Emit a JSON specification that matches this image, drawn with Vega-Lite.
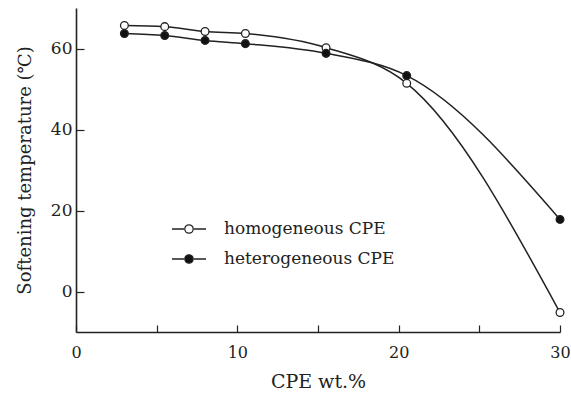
{
  "$schema": "https://vega.github.io/schema/vega-lite/v6.json",
  "width": 484,
  "height": 324,
  "autosize": {"type": "none"},
  "padding": {"left": 76, "top": 8, "right": 11, "bottom": 71},
  "background": "white",
  "config": {
    "view": {"stroke": null},
    "font": "DejaVu Serif",
    "axis": {"grid": false, "domainColor": "#222", "tickColor": "#222", "labelColor": "#222", "titleColor": "#222", "labelFont": "DejaVu Serif", "titleFont": "DejaVu Serif", "titleFontWeight": "normal", "domainWidth": 1.6, "tickWidth": 1.2}
  },
  "data": {
    "values": [
      {"cpe": 3, "temp": 65.7, "series": "homogeneous CPE"},
      {"cpe": 5.5, "temp": 65.4, "series": "homogeneous CPE"},
      {"cpe": 8, "temp": 64.2, "series": "homogeneous CPE"},
      {"cpe": 10.5, "temp": 63.7, "series": "homogeneous CPE"},
      {"cpe": 15.5, "temp": 60.2, "series": "homogeneous CPE"},
      {"cpe": 20.5, "temp": 51.4, "series": "homogeneous CPE"},
      {"cpe": 30, "temp": -5.2, "series": "homogeneous CPE"},
      {"cpe": 3, "temp": 63.7, "series": "heterogeneous CPE"},
      {"cpe": 5.5, "temp": 63.2, "series": "heterogeneous CPE"},
      {"cpe": 8, "temp": 62.0, "series": "heterogeneous CPE"},
      {"cpe": 10.5, "temp": 61.2, "series": "heterogeneous CPE"},
      {"cpe": 15.5, "temp": 58.8, "series": "heterogeneous CPE"},
      {"cpe": 20.5, "temp": 53.3, "series": "heterogeneous CPE"},
      {"cpe": 30, "temp": 17.8, "series": "heterogeneous CPE"}
    ]
  },
  "encoding": {
    "x": {
      "field": "cpe", "type": "quantitative",
      "scale": {"domain": [0, 30], "nice": false, "zero": false},
      "axis": {"title": "CPE wt.%", "values": [0, 5, 10, 15, 20, 25, 30], "labelExpr": "datum.value % 10 === 0 ? datum.label : ''", "tickSize": -7, "labelPadding": 19, "labelFontSize": 16, "titleFontSize": 19, "titlePadding": 12, "labelFlush": false}
    },
    "y": {
      "field": "temp", "type": "quantitative",
      "scale": {"domain": [-10, 70], "nice": false, "zero": false},
      "axis": {"title": "Softening temperature (℃)", "values": [0, 20, 40, 60], "tickSize": -8, "labelPadding": 12, "labelFontSize": 17, "titleFontSize": 18, "titlePadding": 16}
    }
  },
  "layer": [
    {
      "mark": {"type": "line", "interpolate": "monotone", "color": "#222", "strokeWidth": 1.5},
      "encoding": {"detail": {"field": "series"}}
    },
    {
      "mark": {"type": "point", "shape": "circle", "size": 60, "stroke": "#222", "strokeWidth": 1.3, "opacity": 1, "filled": false},
      "encoding": {
        "fill": {
          "field": "series", "type": "nominal",
          "scale": {"domain": ["homogeneous CPE", "heterogeneous CPE"], "range": ["white", "#111"]},
          "legend": {
            "title": null, "orient": "none", "legendX": 102, "legendY": 210, "padding": 0,
            "symbolType": "M-1.7,0L-0.5,0M0.5,0L1.7,0M-0.42,0A0.42,0.42,0,1,0,0.42,0A0.42,0.42,0,1,0,-0.42,0",
            "symbolSize": 400, "symbolStrokeColor": "#222", "symbolStrokeWidth": 1.3,
            "labelFont": "DejaVu Serif", "labelFontSize": 17, "labelColor": "#222", "labelOffset": 24, "labelLimit": 400, "rowPadding": 11
          }
        }
      }
    }
  ]
}
